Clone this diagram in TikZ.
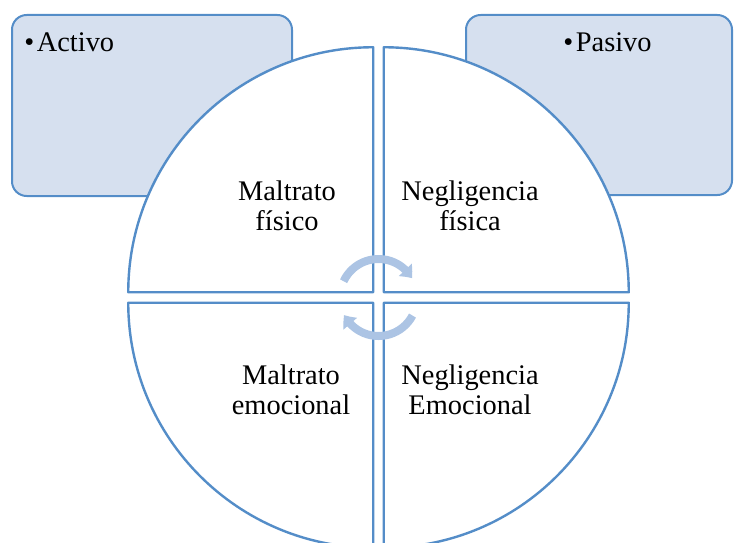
\documentclass[tikz,border=0pt]{standalone}
\usepackage{fontspec}
\setmainfont{Liberation Serif}
\usetikzlibrary{arrows.meta, bending}
\definecolor{quadblue}{RGB}{84,141,200}
\definecolor{boxfill}{RGB}{214,224,239}
\definecolor{arrowblue}{RGB}{172,196,228}

\begin{document}
\begin{tikzpicture}[x=0.75pt, y=-0.75pt, line join=round,
        sidebox/.style={fill=boxfill, draw=quadblue, line width=1.5pt, rounded corners=11pt},
        quadrant/.style={fill=white, draw=quadblue, line width=1.8pt},
        cyclearrow/.style={arrowblue, line width=6pt, -{Triangle[length=8pt, width=13pt, bend]}},
        labeltext/.style={align=center, font=\fontsize{21.3}{22.5}\selectfont, inner sep=0pt},
        bullettext/.style={anchor=base west, font=\fontsize{21.3}{22.5}\selectfont, inner sep=0pt}]
        \clip (0, 0) rectangle (734, 542);
        % Side boxes
        \draw[sidebox] (12, 15) rectangle (292, 196);
        \draw[sidebox] (466, 15) rectangle (732, 195);
        \node[bullettext] (activo) at (24, 51) {•\hspace{2pt}Activo};
        \node[bullettext] (pasivo) at (563, 51) {•\hspace{2pt}Pasivo};
        % Quadrants
        \coordinate (ctl) at (373.25, 292.25);
        \coordinate (ctr) at (383.75, 292.25);
        \coordinate (cbl) at (373.25, 302.75);
        \coordinate (cbr) at (383.75, 302.75);
        \draw[quadrant] (ctl) -- ++(-245, 0) arc[start angle=180, end angle=270, radius=245] -- cycle;
        \draw[quadrant] (ctr) -- ++(0, -245) arc[start angle=270, end angle=360, radius=245] -- cycle;
        \draw[quadrant] (cbl) -- ++(-245, 0) arc[start angle=180, end angle=90, radius=245] -- cycle;
        \draw[quadrant] (cbr) -- ++(245, 0) arc[start angle=0, end angle=90, radius=245] -- cycle;
        % Cycle arrows
        \coordinate (ring) at (378.5, 297.5);
        \draw[cyclearrow] ([shift={(205:38.5)}]ring) arc[start angle=205, end angle=330, radius=38.5];
        \draw[cyclearrow] ([shift={(28:38.5)}]ring) arc[start angle=28, end angle=153, radius=38.5];
        % Labels
        \node[labeltext] (fisico) at (287, 206) {Maltrato\\físico};
        \node[labeltext] (negfisica) at (470, 206) {Negligencia\\física};
        \node[labeltext] (emocional) at (291, 390) {Maltrato\\emocional};
        \node[labeltext] (negemocional) at (470, 390) {Negligencia\\Emocional};
\end{tikzpicture}
\end{document}
